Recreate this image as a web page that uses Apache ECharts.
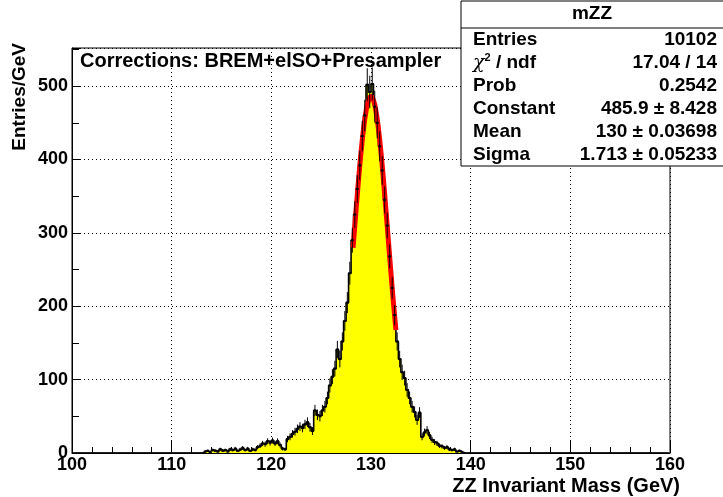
<!DOCTYPE html>
<html>
<head>
<meta charset="utf-8">
<script src="https://cdn.jsdelivr.net/npm/echarts@6/dist/echarts.min.js"></script>
<style>
html,body{margin:0;padding:0;background:#fff;}
#chart{width:723px;height:497px;}
</style>
</head>
<body>
<div id="chart"></div>
<script>
// ---- Data (histogram mZZ, 0.25 GeV bins from 100 to 160) ----
const binLow = 100;
const binWidth = 0.25;
const counts100to113 = [
  0,0,0,0,0,0,0,0,0,0,0,0,0,0,0,0,0,0,0,0,0,0,0,0,0,0,
  0,0,0,0,0,0,0,0,0,0,0,0,0,0,0,0,0,0,0,0,0,0,0,0,0,0
];
const counts113to120 = [0,2,3,1,4,3,2,5,3,4,2,5,4,6,3,5,7,4,6,3,5,4,8,10,13,12,16,14];
const counts120to127 = [17,13,16,11,6,5,19,22,26,29,33,36,34,39,42,35,30,58,52,50,58,63,75,92,104,115,141,128];
const counts127to134 = [152,180,205,245,290,325,360,392,432,460,502,492,503,472,450,418,385,345,310,268,225,188,152,128,110,102,86,75];
const counts134to139 = [63,56,45,55,22,28,31,24,18,15,13,10,9,7,8,5,4,5,2,3];
const counts139to160 = [
  1,0,0,0,0,0,0,0,0,0,0,0,0,0,0,0,0,0,0,0,0,
  0,0,0,0,0,0,0,0,0,0,0,0,0,0,0,0,0,0,0,0,0,
  0,0,0,0,0,0,0,0,0,0,0,0,0,0,0,0,0,0,0,0,0,
  0,0,0,0,0,0,0,0,0,0,0,0,0,0,0,0,0,0,0,0,0
];
// Gaussian fit curve (x in GeV, y in entries)
const fitX = [128.2,128.5,128.75,129,129.25,129.5,129.75,130,130.25,130.5,130.75,131,131.25,131.5,131.75,132,132.25,132.5];
const fitY = [279.8,331.1,372.3,409.8,441.5,465.6,480.8,485.9,480.8,465.6,441.5,409.8,372.3,331.1,288.4,245.8,205.1,167.5];
// Axis ticks
const xTicks = [100,110,120,130,140,150,160];
const yTicks = [0,100,200,300,400,500];
// Stats box
const statsTitle = 'mZZ';
const statsLabels = ['Entries', '{i|χ}{s|2} / ndf', 'Prob', 'Constant', 'Mean', 'Sigma'];
const statsValues = ['10102', '17.04 / 14', '0.2542', '485.9 ± 8.428', '130 ± 0.03698', '1.713 ± 0.05233'];
const labelText = 'Corrections: BREM+elSO+Presampler';
const xTitle = 'ZZ Invariant Mass (GeV)';
const yTitle = 'Entries/GeV';

// ---- Build ----
const counts = [].concat(counts100to113, counts113to120, counts120to127, counts127to134, counts134to139, counts139to160);
const histData = counts.map((v, i) => [binLow + (i + 0.5) * binWidth, v]);
const errData = histData.filter(d => d[1] > 0);
const fitData = fitX.map((x, i) => [x, fitY[i]]);

const FONT = '"Liberation Sans", Arial, Helvetica, sans-serif';
const chart = echarts.init(document.getElementById('chart'), null, {renderer: 'canvas'});

const statsGraphics = [];
statsGraphics.push({type:'rect', shape:{x:461, y:1, width:270, height:165}, style:{fill:'#fff', stroke:'#000', lineWidth:1}, z:100});
statsGraphics.push({type:'line', shape:{x1:461, y1:28, x2:723, y2:28}, style:{stroke:'#000', lineWidth:1}, z:101});
statsGraphics.push({type:'text', x:592, y:14, style:{text:statsTitle, font:'bold 19px ' + FONT, fill:'#000', align:'center', verticalAlign:'middle'}, z:101});
const rowY = [40, 63, 86, 109, 132, 155];
statsLabels.forEach((t, i) => {
  statsGraphics.push({type:'text', x:473, y:rowY[i], style:{text:t, font:'bold 19px ' + FONT, fill:'#000', align:'left', verticalAlign:'middle',
    rich:{i:{fontStyle:'italic', fontSize:19, fontFamily:'"DejaVu Serif", serif', fill:'#000'}, s:{fontSize:11, fontWeight:'bold', fontFamily:FONT, verticalAlign:'top', padding:[0,0,10,0], fill:'#000'}}}, z:101});
  statsGraphics.push({type:'text', x:717, y:rowY[i], style:{text:statsValues[i], font:'bold 19px ' + FONT, fill:'#000', align:'right', verticalAlign:'middle'}, z:101});
});

const option = {
  animation: false,
  backgroundColor: '#fff',
  grid: {left:72, right:53, top:48, bottom:44, show:true, borderColor:'#000', borderWidth:1, backgroundColor:'#fff'},
  xAxis: {
    type:'value', min:xTicks[0], max:xTicks[xTicks.length-1], interval:10,
    axisLine:{show:true, lineStyle:{color:'#000', width:1}},
    axisTick:{show:true, inside:true, length:12, lineStyle:{color:'#000'}},
    minorTick:{show:true, splitNumber:5, length:6, lineStyle:{color:'#000'}},
    axisLabel:{color:'#000', fontSize:18, fontWeight:'bold', fontFamily:FONT, margin:3},
    splitLine:{show:true, lineStyle:{type:[1,3], color:'#000', width:1}}
  },
  yAxis: {
    type:'value', min:yTicks[0], max:552, interval:100,
    axisLine:{show:true, lineStyle:{color:'#000', width:1}},
    axisTick:{show:true, inside:true, length:8, lineStyle:{color:'#000'}},
    minorTick:{show:true, splitNumber:2, length:7, lineStyle:{color:'#000'}},
    axisLabel:{color:'#000', fontSize:18, fontWeight:'bold', fontFamily:FONT, margin:4, showMaxLabel:false},
    splitLine:{show:true, lineStyle:{type:[1,3], color:'#000', width:1}}
  },
  series: [
    {type:'line', step:'middle', data:histData, symbol:'none', z:2,
     lineStyle:{color:'#000', width:1.6}, areaStyle:{color:'#ffff00', opacity:1}},
    {type:'line', data:fitData, smooth:true, symbol:'none', z:3,
     lineStyle:{color:'#ff0000', width:5}},
    {type:'custom', data:errData, z:4,
     renderItem:function(params, api){
       const x = api.value(0), y = api.value(1);
       const e = Math.sqrt(y);
       const top = api.coord([x, y + e]);
       const bot = api.coord([x, Math.max(0, y - e)]);
       const c = api.coord([x, y]);
       return {type:'group', children:[
         {type:'line', shape:{x1:top[0], y1:top[1], x2:bot[0], y2:bot[1]}, style:{stroke:'#000', lineWidth:1}},
         {type:'rect', shape:{x:c[0]-1.5, y:c[1]-1, width:3, height:2}, style:{fill:'#000'}}
       ]};
     }}
  ],
  graphic: [
    {type:'text', x:80, y:61, style:{text:labelText, font:'bold 20px ' + FONT, fill:'#000', align:'left', verticalAlign:'middle'}, z:50},
    {type:'text', x:680, y:486, style:{text:xTitle, font:'bold 20px ' + FONT, fill:'#000', align:'right', verticalAlign:'middle'}, z:50},
    {type:'text', x:20, y:43, rotation:Math.PI/2, style:{text:yTitle, font:'bold 19px ' + FONT, fill:'#000', align:'right', verticalAlign:'middle'}, z:50}
  ].concat(statsGraphics)
};
chart.setOption(option);
</script>
</body>
</html>
